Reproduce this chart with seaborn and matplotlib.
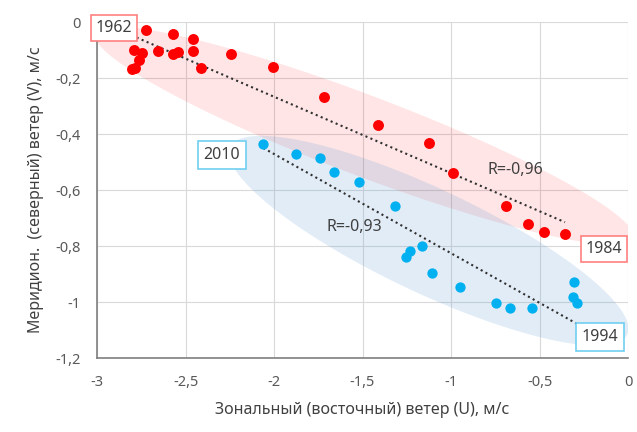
import numpy as np
import pandas as pd
import matplotlib
matplotlib.use("Agg")
import matplotlib.pyplot as plt
import seaborn as sns

# --- data ---
red_u = [-2.725, -2.569, -2.459, -2.791, -2.744, -2.657, -2.569, -2.541, -2.459,
         -2.245, -2.764, -2.785, -2.804, -2.412, -2.007, -1.716, -1.414, -1.126,
         -0.987, -0.688, -0.565, -0.473, -0.356]
red_v = [-0.029, -0.044, -0.062, -0.100, -0.112, -0.102, -0.115, -0.108, -0.102,
         -0.114, -0.136, -0.165, -0.169, -0.165, -0.162, -0.267, -0.369, -0.433,
         -0.538, -0.656, -0.723, -0.750, -0.758]

blue_u = [-2.060, -1.876, -1.740, -1.661, -1.518, -1.316, -1.232, -1.254, -1.164,
          -1.106, -0.949, -0.747, -0.667, -0.545, -0.305, -0.312, -0.290]
blue_v = [-0.436, -0.473, -0.485, -0.536, -0.571, -0.656, -0.817, -0.840, -0.800,
          -0.898, -0.945, -1.005, -1.020, -1.020, -0.930, -0.983, -1.005]

red_years = ["1962", "1984"]
blue_years = ["2010", "1994"]
r_labels = ["R=-0,96", "R=-0,93"]

x_ticks = [-3, -2.5, -2, -1.5, -1, -0.5, 0]
x_tick_labels = ["-3", "-2,5", "-2", "-1,5", "-1", "-0,5", "0"]
y_ticks = [0, -0.2, -0.4, -0.6, -0.8, -1.0, -1.2]
y_tick_labels = ["0", "-0,2", "-0,4", "-0,6", "-0,8", "-1", "-1,2"]

x_label = "Зональный (восточный) ветер (U), м/с"
y_label = "Меридион.  (северный) ветер (V), м/с"

red_df = pd.DataFrame({"u": red_u, "v": red_v})
blue_df = pd.DataFrame({"u": blue_u, "v": blue_v})

RED = "#FF0000"
BLUE = "#00B0F0"
TEXT = "#404040"
TICK = "#595959"

sns.set_theme(style="whitegrid")
plt.rcParams["font.family"] = ["Noto Sans", "DejaVu Sans"]

fig = plt.figure(figsize=(6.37, 4.32), dpi=100)
ax = fig.add_axes([97 / 637, 1 - 358 / 432, (628 - 97) / 637, (358 - 22) / 432])
ax.set_xlim(-3, 0)
ax.set_ylim(-1.2, 0)


def halo(df, pad_major, half_minor, shift, tilt, color, alpha):
    """Soft ellipse around a group, built along its fitted line in screen space."""
    k, b = np.polyfit(df["u"], df["v"], 1)
    xs = np.array([df["u"].min(), df["u"].max()])
    p = ax.transData.transform(np.column_stack([xs, k * xs + b]))
    d = p[1] - p[0]
    half_len = np.hypot(*d) / 2
    ang = np.arctan2(d[1], d[0]) + np.radians(tilt)
    c = p.mean(axis=0) + shift * d / np.hypot(*d)
    t = np.linspace(0, 2 * np.pi, 200)
    a = half_len + pad_major
    ex = a * np.cos(t)
    ey = half_minor * np.sin(t)
    px = c[0] + ex * np.cos(ang) - ey * np.sin(ang)
    py = c[1] + ex * np.sin(ang) + ey * np.cos(ang)
    data = ax.transData.inverted().transform(np.column_stack([px, py]))
    ax.fill(data[:, 0], data[:, 1], color=color, alpha=alpha, lw=0, zorder=1)


halo(red_df, 52, 40, 17, 2.5, "#FF0000", 0.10)
halo(blue_df, 40, 52, 10, 4, "#5B9BD5", 0.18)

sns.scatterplot(data=red_df, x="u", y="v", color=RED, s=62, linewidth=0, ax=ax, zorder=3)
sns.scatterplot(data=blue_df, x="u", y="v", color=BLUE, s=55, linewidth=0, ax=ax, zorder=3)

line_kws = dict(color="#303030", linestyle=(0, (1, 1.6)), linewidth=1.5, zorder=2)
sns.regplot(data=red_df, x="u", y="v", scatter=False, ci=None, line_kws=line_kws, ax=ax)
sns.regplot(data=blue_df, x="u", y="v", scatter=False, ci=None, line_kws=line_kws, ax=ax)

# year tags and correlation labels
box_red = dict(boxstyle="square,pad=0.3", fc="white", ec="#FF8080", lw=1.2)
box_blue = dict(boxstyle="square,pad=0.35", fc="white", ec="#70CFF0", lw=1.2)
ax.text(-2.904, -0.021, red_years[0], ha="center", va="center", fontsize=11.5,
        color=TEXT, bbox=box_red, zorder=5)
ax.text(-0.136, -0.81, red_years[1], ha="center", va="center", fontsize=11.5,
        color=TEXT, bbox=box_red, zorder=5)
ax.text(-2.294, -0.475, blue_years[0], ha="center", va="center", fontsize=11.5,
        color=TEXT, bbox=box_blue, zorder=5)
ax.text(-0.158, -1.125, blue_years[1], ha="center", va="center", fontsize=11.5,
        color=TEXT, bbox=box_blue, zorder=5)
ax.text(-0.638, -0.529, r_labels[0], ha="center", va="center", fontsize=11.5, color=TEXT, zorder=5)
ax.text(-1.548, -0.732, r_labels[1], ha="center", va="center", fontsize=11.5, color=TEXT, zorder=5)

ax.set_xticks(x_ticks)
ax.set_xticklabels(x_tick_labels)
ax.set_yticks(y_ticks)
ax.set_yticklabels(y_tick_labels)
ax.tick_params(axis="x", labelsize=10.5, colors=TICK, pad=12, length=0)
ax.tick_params(axis="y", labelsize=10.5, colors=TICK, pad=12, length=0)
ax.set_xlabel(x_label, fontsize=11.5, color=TEXT, labelpad=9)
ax.set_ylabel(y_label, fontsize=11.5, color=TEXT, labelpad=8)

ax.grid(True, color="#D9D9D9", linewidth=0.8)
ax.set_facecolor("white")
for side in ["top", "right"]:
    ax.spines[side].set_visible(False)
for side in ["left", "bottom"]:
    ax.spines[side].set_color("#7F7F7F")
    ax.spines[side].set_linewidth(1.2)

fig.savefig("out.png", dpi=100, facecolor="white")
plt.close(fig)
